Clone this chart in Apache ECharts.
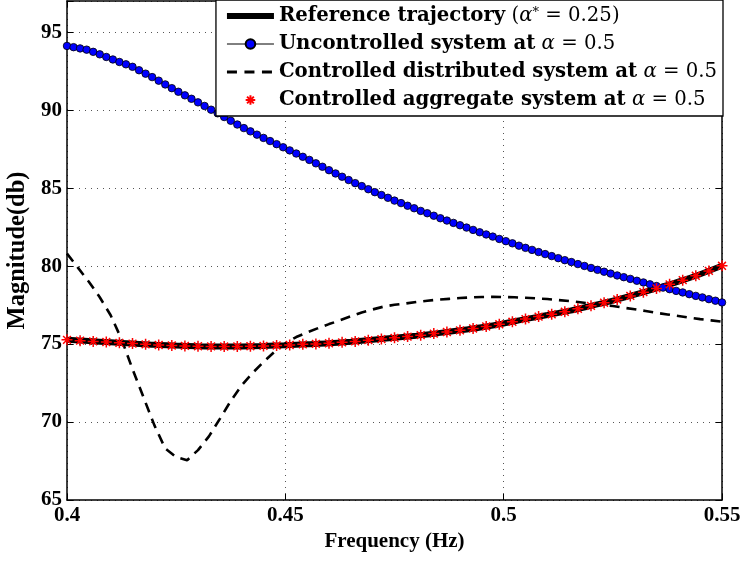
<!DOCTYPE html>
<html><head><meta charset="utf-8">
<script src="https://cdn.jsdelivr.net/npm/echarts@6/dist/echarts.min.js"></script>
<style>html,body{margin:0;padding:0;background:#fff}#c{width:743px;height:561px}</style>
</head><body><div id="c"></div>
<script>
// ---- data ----
const xTicks = [0.4, 0.45, 0.5, 0.55];
const yTicks = [65, 70, 75, 80, 85, 90, 95];
const freqStart = 0.4;

// Reference trajectory, sampled every 0.005 Hz
const referenceStep = 0.005;
const referenceValues = [75.27,75.19,75.11,75.03,74.95,74.90,74.86,74.84,74.85,74.88,74.93,74.99,75.05,75.15,75.27,75.40,75.54,75.70,75.88,76.08,76.32,76.60,76.86,77.13,77.45,77.78,78.17,78.57,79.00,79.48,80.02];

// Uncontrolled system, markers every 0.0015 Hz
const uncontrolledStep = 0.0015;
const uncontrolledValues = [94.12,94.04,93.96,93.88,93.74,93.58,93.41,93.25,93.09,92.94,
92.78,92.56,92.34,92.12,91.89,91.65,91.41,91.18,90.95,90.73,
90.50,90.27,90.03,89.80,89.56,89.32,89.08,88.85,88.64,88.43,
88.22,88.02,87.82,87.62,87.42,87.22,87.01,86.81,86.59,86.37,
86.15,85.94,85.73,85.52,85.32,85.13,84.93,84.74,84.56,84.38,
84.20,84.04,83.87,83.71,83.54,83.39,83.23,83.07,82.92,82.77,
82.62,82.47,82.32,82.17,82.03,81.89,81.74,81.60,81.46,81.31,
81.17,81.04,80.90,80.77,80.64,80.51,80.38,80.26,80.13,80.01,
79.88,79.76,79.64,79.52,79.40,79.29,79.18,79.06,78.95,78.83,
78.72,78.62,78.52,78.41,78.31,78.20,78.09,77.99,77.88,77.78,77.67];

// Controlled distributed system, every 0.0025 Hz
const distributedStep = 0.0025;
const distributedValues = [80.80,79.90,79.00,78.00,76.85,75.30,73.40,71.60,69.80,68.30,
67.75,67.55,68.20,69.08,70.20,71.35,72.35,73.15,73.85,74.50,
75.05,75.45,75.75,76.02,76.28,76.52,76.78,77.03,77.22,77.40,
77.52,77.60,77.70,77.78,77.85,77.90,77.95,77.99,78.02,78.03,
78.02,78.00,77.97,77.93,77.89,77.82,77.76,77.68,77.60,77.52,
77.44,77.33,77.23,77.12,77.00,76.90,76.80,76.70,76.60,76.52,76.44];

// Controlled aggregate system, markers every 0.003 Hz
const aggregateStep = 0.003;
const aggregateValues = [75.27,75.22,75.17,75.13,75.08,75.03,74.98,74.94,74.91,74.88,
74.86,74.85,74.84,74.85,74.86,74.88,74.91,74.94,74.98,75.01,
75.05,75.11,75.17,75.25,75.32,75.40,75.48,75.57,75.67,75.77,
75.88,76.00,76.13,76.27,76.43,76.60,76.76,76.91,77.07,77.26,
77.45,77.65,77.86,78.09,78.33,78.57,78.83,79.10,79.38,79.69,80.02];

const seriesNames = ['ref', 'unc', 'dist', 'agg'];
const legendLabels = {
  ref: '{b|Reference trajectory}{m| (}{i|α}{s|*}{m| = 0.25)}',
  unc: '{b|Uncontrolled system at}{m| }{i|α}{m| = 0.5}',
  dist: '{b|Controlled distributed system at}{m| }{i|α}{m| = 0.5}',
  agg: '{b|Controlled aggregate system at}{m| }{i|α}{m| = 0.5}'
};

function pairs(values, step) {
  return values.map((v, i) => [+(freqStart + i * step).toFixed(5), v]);
}

const asterisk = 'path://M10,0L10,20M0,10L20,10M2.9,2.9L17.1,17.1M2.9,17.1L17.1,2.9';
const serif = 'Liberation Serif';
const fs = 19.7;

const chart = echarts.init(document.getElementById('c'), null, {renderer: 'canvas'});
chart.setOption({
  animation: false,
  backgroundColor: '#fff',
  grid: {left: 67, right: 21, top: 1, bottom: 61, containLabel: false, outerBoundsMode: 'none'},
  legend: {
    data: [
      {name: 'ref', itemStyle: {opacity: 0}, lineStyle: {width: 6, color: '#000', type: 'solid'}},
      {name: 'unc', lineStyle: {width: 1, color: '#000'}},
      {name: 'dist', itemStyle: {opacity: 0}, lineStyle: {width: 3, color: '#000', type: [10, 7.5]}},
      {name: 'agg', lineStyle: {width: 0, opacity: 0}}
    ],
    orient: 'vertical',
    right: 20, top: 0,
    itemWidth: 47, itemHeight: 12, itemGap: 8,
    padding: [6, 6, 6, 8],
    backgroundColor: '#fff',
    borderColor: '#000', borderWidth: 1.3,
    align: 'left',
    formatter: n => legendLabels[n],
    textStyle: {
      lineHeight: 20,
      rich: {
        b: {fontFamily: 'DejaVu Serif', fontWeight: 'bold', fontSize: fs, color: '#000'},
        m: {fontFamily: 'DejaVu Serif', fontSize: fs, color: '#000'},
        i: {fontFamily: 'DejaVu Serif', fontStyle: 'italic', fontSize: fs, color: '#000'},
        s: {fontFamily: 'DejaVu Serif', fontSize: 13, color: '#000', verticalAlign: 'top'}
      }
    }
  },
  xAxis: [{
    type: 'value', min: 0.4, max: 0.55, interval: 0.05, position: 'bottom',
    name: 'Frequency (Hz)', nameLocation: 'middle', nameGap: 29,
    nameTextStyle: {fontFamily: serif, fontWeight: 'bold', fontSize: 21, color: '#000'},
    axisLine: {lineStyle: {color: '#000', width: 1.5}},
    axisTick: {inside: true, length: 6, lineStyle: {color: '#000'}},
    axisLabel: {fontFamily: serif, fontWeight: 'bold', fontSize: 21, color: '#000', margin: 5,
      formatter: v => (xTicks.some(t => Math.abs(t - v) < 1e-9) ? String(v) : '')},
    splitLine: {show: true, lineStyle: {color: '#555', type: [1, 5], width: 1}}
  }, {
    type: 'value', min: 0.4, max: 0.55, interval: 0.05, position: 'top',
    axisLine: {lineStyle: {color: '#000', width: 1.5}},
    axisTick: {inside: true, length: 6, lineStyle: {color: '#000'}},
    axisLabel: {show: false}, splitLine: {show: false}
  }],
  yAxis: [{
    type: 'value', min: 65, max: 97, interval: 5, position: 'left',
    name: 'Magnitude(db)', nameLocation: 'middle', nameGap: 33, nameRotate: 90,
    nameTextStyle: {fontFamily: serif, fontWeight: 'bold', fontSize: 24.5, color: '#000'},
    axisLine: {show: true, lineStyle: {color: '#000', width: 1.5}},
    axisTick: {show: true, inside: true, length: 6, lineStyle: {color: '#000'}},
    axisLabel: {fontFamily: serif, fontWeight: 'bold', fontSize: 21, color: '#000', margin: 5,
      formatter: v => (yTicks.indexOf(v) >= 0 ? String(v) : '')},
    splitLine: {show: true, lineStyle: {color: '#555', type: [1, 5], width: 1}}
  }, {
    type: 'value', min: 65, max: 97, interval: 5, position: 'right',
    axisLine: {show: true, lineStyle: {color: '#000', width: 1.5}},
    axisTick: {show: true, inside: true, length: 6, lineStyle: {color: '#000'}},
    axisLabel: {show: false}, splitLine: {show: false}
  }],
  series: [{
    name: 'ref', type: 'line', data: pairs(referenceValues, referenceStep),
    smooth: 0.3, symbol: 'none', z: 2,
    lineStyle: {color: '#000', width: 6}, itemStyle: {color: '#000'}
  }, {
    name: 'unc', type: 'line', data: pairs(uncontrolledValues, uncontrolledStep),
    symbol: 'circle', symbolSize: 7.5, showAllSymbol: true, z: 3,
    lineStyle: {color: '#000', width: 1},
    itemStyle: {color: '#0000ff', borderColor: '#000', borderWidth: 0.8}
  }, {
    name: 'dist', type: 'line', data: pairs(distributedValues, distributedStep),
    symbol: 'none', z: 4,
    lineStyle: {color: '#000', width: 2.6, type: [10, 7]}, itemStyle: {color: '#000'}
  }, {
    name: 'agg', type: 'line', data: pairs(aggregateValues, aggregateStep),
    symbol: asterisk, symbolSize: 11, showAllSymbol: true, z: 5,
    lineStyle: {width: 0, opacity: 0},
    itemStyle: {color: 'rgba(255,0,0,0)', borderColor: '#ff0000', borderWidth: 1.5}
  }]
});
</script></body></html>
